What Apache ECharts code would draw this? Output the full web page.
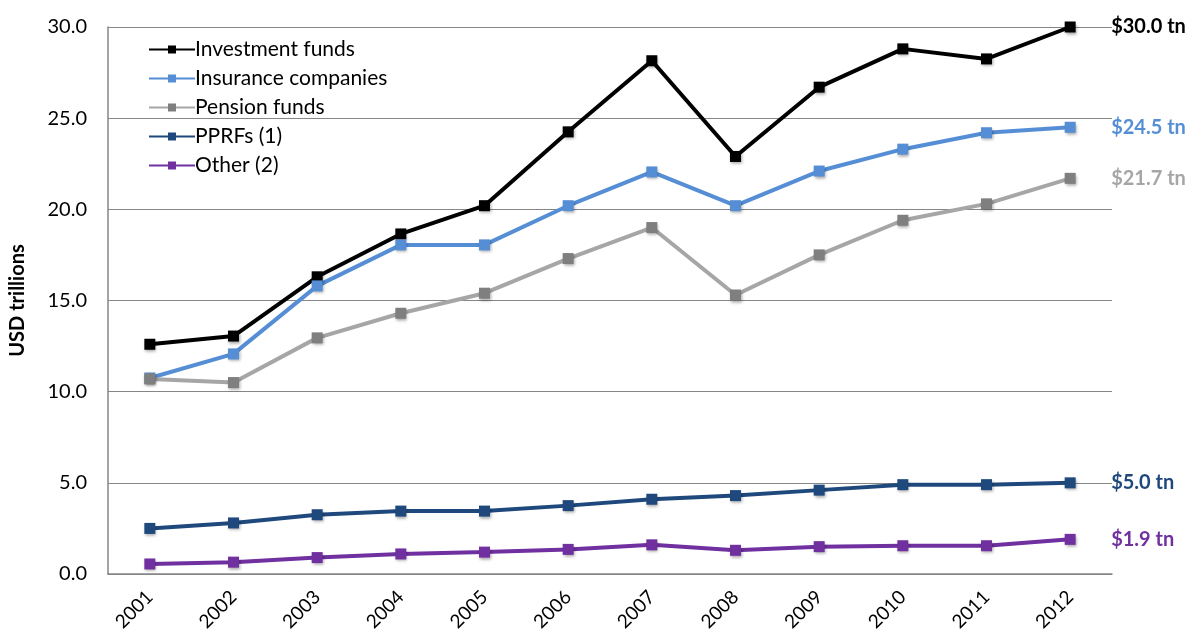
<!DOCTYPE html>
<html>
<head>
<meta charset="utf-8">
<script src="https://cdn.jsdelivr.net/npm/echarts@6/dist/echarts.min.js"></script>
<style>
  html, body { margin: 0; padding: 0; background: #fff; }
  #chart { width: 1192px; height: 635px; }
</style>
</head>
<body>
<div id="chart"></div>
<script>
// years on the x axis
const years = ['2001', '2002', '2003', '2004', '2005', '2006', '2007', '2008', '2009', '2010', '2011', '2012'];
// USD trillions
const investmentFunds = [12.6, 13.05, 16.3, 18.65, 20.2, 24.25, 28.15, 22.9, 26.7, 28.8, 28.25, 30.0];
const insuranceCompanies = [10.75, 12.07, 15.8, 18.05, 18.05, 20.2, 22.05, 20.2, 22.1, 23.3, 24.2, 24.5];
const pensionFunds = [10.7, 10.5, 12.95, 14.3, 15.4, 17.3, 19.0, 15.3, 17.5, 19.4, 20.3, 21.7];
const pprfs = [2.5, 2.8, 3.25, 3.45, 3.45, 3.75, 4.1, 4.3, 4.6, 4.9, 4.9, 5.0];
const other = [0.55, 0.65, 0.9, 1.1, 1.2, 1.35, 1.6, 1.3, 1.5, 1.55, 1.55, 1.9];
const endTexts = ['$30.0 tn', '$24.5 tn', '$21.7 tn', '$5.0 tn', '$1.9 tn'];

const font = 'Lato, "Open Sans", sans-serif';

function mkSeries(name, data, lineColor, markColor, endText) {
  return {
    name: name,
    type: 'line',
    data: data,
    symbol: 'rect',
    symbolSize: 11,
    lineStyle: { color: lineColor, width: 4 },
    itemStyle: {
      color: markColor,
      shadowColor: 'rgba(0,0,0,0.35)',
      shadowBlur: 3,
      shadowOffsetX: 1,
      shadowOffsetY: 2
    },
    endLabel: {
      show: true,
      formatter: endText,
      distance: 41,
      color: lineColor,
      fontFamily: font,
      fontWeight: 'bold',
      fontSize: 20
    },
    animation: false
  }
}

let chart = echarts.init(document.getElementById('chart'))
chart.setOption({
  backgroundColor: '#fff',
  grid: { left: 104, right: 80, top: 27, bottom: 61 },
  legend: {
    orient: 'vertical',
    left: 143,
    top: 34,
    itemWidth: 46,
    itemHeight: 10,
    itemGap: 8,
    textStyle: { fontFamily: font, fontSize: 21, color: '#000', padding: [0, 0, 0, -5] },
    data: ['Investment funds', 'Insurance companies', 'Pension funds', 'PPRFs (1)', 'Other (2)']
  },
  xAxis: {
    type: 'category',
    data: years,
    boundaryGap: true,
    axisLine: { lineStyle: { color: '#868686', width: 1.5 } },
    axisTick: { show: false },
    axisLabel: {
      rotate: 45,
      margin: 20,
      fontFamily: font,
      fontSize: 19,
      color: '#000'
    }
  },
  yAxis: {
    type: 'value',
    min: 0,
    max: 30,
    interval: 5,
    name: 'USD trillions',
    nameLocation: 'middle',
    nameGap: 80,
    nameTextStyle: { fontFamily: font, fontWeight: 'bold', fontSize: 20, color: '#000' },
    axisLine: { show: true, lineStyle: { color: '#868686', width: 1.5 } },
    axisTick: { show: false },
    splitLine: { lineStyle: { color: '#868686', width: 1.2 } },
    axisLabel: {
      formatter: (v) => v.toFixed(1),
      margin: 21,
      fontFamily: font,
      fontSize: 20,
      color: '#000'
    }
  },
  series: [
    mkSeries('Investment funds', investmentFunds, '#000000', '#000000', endTexts[0]),
    mkSeries('Insurance companies', insuranceCompanies, '#558ED5', '#558ED5', endTexts[1]),
    mkSeries('Pension funds', pensionFunds, '#A6A6A6', '#7F7F7F', endTexts[2]),
    mkSeries('PPRFs (1)', pprfs, '#1F497D', '#1F497D', endTexts[3]),
    mkSeries('Other (2)', other, '#7030A0', '#7030A0', endTexts[4])
  ]
})
</script>
</body>
</html>
